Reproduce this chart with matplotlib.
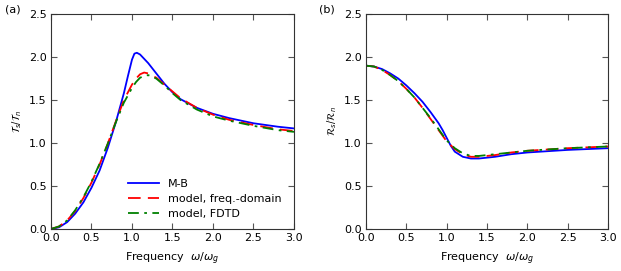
import matplotlib
matplotlib.use("Agg")
import matplotlib.pyplot as plt

plt.rcParams['font.family'] = 'DejaVu Sans'
plt.rcParams['font.size'] = 8

# panel (a): transmission ratio
xa_mb = [0, 0.1, 0.2, 0.3, 0.4, 0.5, 0.6, 0.7, 0.8, 0.9, 0.95, 1.0, 1.03,
         1.06, 1.1, 1.15, 1.2, 1.3, 1.4, 1.5, 1.6, 1.8, 2.0, 2.2, 2.5, 2.8, 3.0]
ya_mb = [0, 0.02, 0.08, 0.18, 0.31, 0.48, 0.68, 0.94, 1.24, 1.58, 1.78, 1.97,
         2.04, 2.05, 2.03, 1.98, 1.93, 1.81, 1.69, 1.59, 1.51, 1.41, 1.34,
         1.29, 1.23, 1.19, 1.17]

xa_fd = [0, 0.1, 0.2, 0.3, 0.4, 0.5, 0.6, 0.7, 0.8, 0.9, 1.0, 1.05, 1.1,
         1.15, 1.2, 1.3, 1.4, 1.5, 1.6, 1.8, 2.0, 2.2, 2.5, 2.8, 3.0]
ya_fd = [0, 0.03, 0.10, 0.21, 0.36, 0.54, 0.75, 0.99, 1.25, 1.50, 1.68,
         1.75, 1.80, 1.82, 1.81, 1.76, 1.68, 1.60, 1.52, 1.41, 1.33, 1.27,
         1.21, 1.16, 1.14]

xa_td = [0, 0.1, 0.2, 0.3, 0.4, 0.5, 0.6, 0.7, 0.8, 0.9, 1.0, 1.05, 1.1,
         1.15, 1.2, 1.3, 1.4, 1.5, 1.6, 1.8, 2.0, 2.2, 2.5, 2.8, 3.0]
ya_td = [0, 0.03, 0.10, 0.22, 0.37, 0.55, 0.76, 0.99, 1.24, 1.47, 1.64,
         1.71, 1.76, 1.78, 1.79, 1.75, 1.67, 1.58, 1.50, 1.39, 1.31, 1.26,
         1.20, 1.15, 1.13]

# panel (b): reflection ratio
xb_mb = [0, 0.1, 0.2, 0.3, 0.4, 0.5, 0.6, 0.7, 0.8, 0.9, 0.95, 1.0, 1.05,
         1.1, 1.2, 1.3, 1.4, 1.6, 1.8, 2.0, 2.5, 3.0]
yb_mb = [1.90, 1.89, 1.86, 1.81, 1.75, 1.67, 1.58, 1.48, 1.36, 1.23, 1.15,
         1.06, 0.97, 0.90, 0.84, 0.82, 0.82, 0.84, 0.87, 0.89, 0.92, 0.94]

xb_fd = [0, 0.1, 0.2, 0.3, 0.4, 0.5, 0.6, 0.7, 0.8, 0.9, 1.0, 1.1, 1.2,
         1.3, 1.4, 1.6, 1.8, 2.0, 2.5, 3.0]
yb_fd = [1.90, 1.89, 1.85, 1.79, 1.72, 1.63, 1.53, 1.41, 1.28, 1.15, 1.02,
         0.93, 0.87, 0.84, 0.84, 0.86, 0.89, 0.91, 0.94, 0.96]

xb_td = [0, 0.1, 0.2, 0.3, 0.4, 0.5, 0.6, 0.7, 0.8, 0.9, 1.0, 1.1, 1.2,
         1.3, 1.4, 1.6, 1.8, 2.0, 2.5, 3.0]
yb_td = [1.90, 1.89, 1.85, 1.79, 1.72, 1.63, 1.53, 1.41, 1.29, 1.16, 1.03,
         0.94, 0.88, 0.85, 0.85, 0.87, 0.89, 0.91, 0.94, 0.96]

labels = ["M-B", "model, freq.-domain", "model, FDTD"]
xticks = [0.0, 0.5, 1.0, 1.5, 2.0, 2.5, 3.0]
yticks = [0.0, 0.5, 1.0, 1.5, 2.0, 2.5]

fig = plt.figure(figsize=(6.21, 2.71), dpi=100)
ax1 = fig.add_axes([0.0821, 0.155, 0.3913, 0.793])
ax2 = fig.add_axes([0.5894, 0.155, 0.3897, 0.793])

for ax, data in [(ax1, (xa_mb, ya_mb, xa_fd, ya_fd, xa_td, ya_td)),
                 (ax2, (xb_mb, yb_mb, xb_fd, yb_fd, xb_td, yb_td))]:
    ax.plot(data[0], data[1], color='blue', lw=1.3, label=labels[0])
    ax.plot(data[2], data[3], color='red', lw=1.3, ls=(0, (7, 4)),
            label=labels[1])
    ax.plot(data[4], data[5], color='green', lw=1.3, ls=(0, (6, 3, 1.5, 3)),
            label=labels[2])
    ax.set_xlim(0, 3)
    ax.set_ylim(0, 2.5)
    ax.set_xticks(xticks)
    ax.set_yticks(yticks)
    ax.tick_params(direction='in', top=True, right=True, length=4,
                   color='#555555', labelsize=8, pad=3)
    for s in ax.spines.values():
        s.set_color('#333333')
    ax.set_xlabel(r"Frequency  $\omega/\omega_g$", fontsize=8, labelpad=5)

ax1.set_ylabel(r"$\mathcal{T}_s/\mathcal{T}_n$", fontsize=7, labelpad=4)
ax2.set_ylabel(r"$\mathcal{R}_s/\mathcal{R}_n$", fontsize=7, labelpad=4)

ax1.legend(loc='lower right', frameon=False, fontsize=8, handlelength=2.8,
           bbox_to_anchor=(0.99, 0.0), labelspacing=0.45)

fig.text(0.008, 0.955, "(a)", fontsize=8)
fig.text(0.513, 0.955, "(b)", fontsize=8)

plt.savefig("out.png", dpi=100)
